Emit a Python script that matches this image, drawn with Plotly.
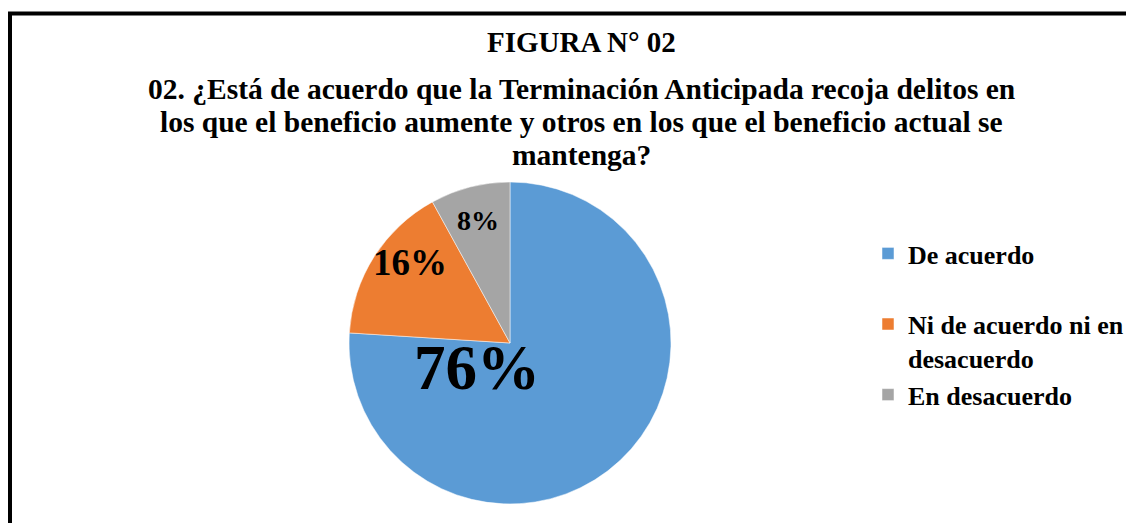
import plotly.graph_objects as go

# Datos de la figura 02
categorias = ["De acuerdo", "Ni de acuerdo ni en desacuerdo", "En desacuerdo"]
etiquetas_leyenda = ["De acuerdo<br> ", "Ni de acuerdo ni en<br>desacuerdo", "En desacuerdo"]
porcentajes = [76, 16, 8]
colores = ["#5B9BD5", "#ED7D31", "#A5A5A5"]

titulo = "FIGURA N° 02"
pregunta = [
    "02. ¿Está de acuerdo que la Terminación Anticipada recoja delitos en",
    "los que el beneficio aumente y otros en los que el beneficio actual se",
    "mantenga?",
]

FUENTE = "Liberation Serif, Times New Roman, serif"
W, H = 1134, 523
OFF = 8  # margen del <body> en la página

# centro y radio del pastel en píxeles (coordenadas de la figura)
cx, cy, r = 510 - OFF, 343 - OFF, 161

# etiquetas de datos movidas a mano (como en Excel): desplazamiento desde el centro y tamaño
pos_etiquetas = [(-33, 25, 63), (-100, -81, 37), (-32, -122, 28)]

fig = go.Figure()
fig.add_trace(go.Pie(
    labels=etiquetas_leyenda,
    values=porcentajes,
    sort=False,
    direction="clockwise",
    rotation=0,
    marker=dict(colors=colores, line=dict(color="white", width=0.5)),
    textinfo="none",
    domain=dict(x=[(cx - r) / W, (cx + r) / W], y=[(H - cy - r) / H, (H - cy + r) / H]),
    hoverinfo="label+percent",
))

total = sum(porcentajes)
anotaciones = []
for v, (dx, dy, tam) in zip(porcentajes, pos_etiquetas):
    anotaciones.append(dict(
        text=f"{round(100 * v / total)}%", x=(cx + dx) / W, y=1 - (cy + dy) / H,
        font=dict(family=FUENTE, size=tam, color="black", weight="bold"),
    ))

# títulos como anotaciones, una por línea
anotaciones.append(dict(text=titulo, x=(581 - OFF) / W, y=1 - (42 - OFF) / H,
                        font=dict(family=FUENTE, size=29, color="black", weight="bold")))
for i, linea in enumerate(pregunta):
    anotaciones.append(dict(text=linea, x=(581 - OFF) / W, y=1 - (89 + 33 * i - OFF) / H,
                            font=dict(family=FUENTE, size=29.5, color="black", weight="bold")))
for a in anotaciones:
    a.update(xref="paper", yref="paper", xanchor="center", yanchor="middle", showarrow=False)

fig.update_layout(
    width=W, height=H,
    margin=dict(l=0, r=0, t=0, b=0),
    paper_bgcolor="white",
    plot_bgcolor="white",
    annotations=anotaciones,
    showlegend=True,
    legend=dict(
        x=(868 - OFF) / W, y=1 - (230 - OFF) / H, xanchor="left", yanchor="top",
        font=dict(family=FUENTE, size=26, color="black", weight="bold"),
        valign="top", bgcolor="rgba(0,0,0,0)",
    ),
    # marco negro del gráfico (recortado a la derecha y abajo)
    shapes=[dict(
        type="rect", xref="paper", yref="paper",
        x0=(10 - OFF) / W, x1=1.05, y0=-0.05, y1=1 - (13.5 - OFF) / H,
        line=dict(color="black", width=4),
    )],
)

fig.write_html("out.html")
